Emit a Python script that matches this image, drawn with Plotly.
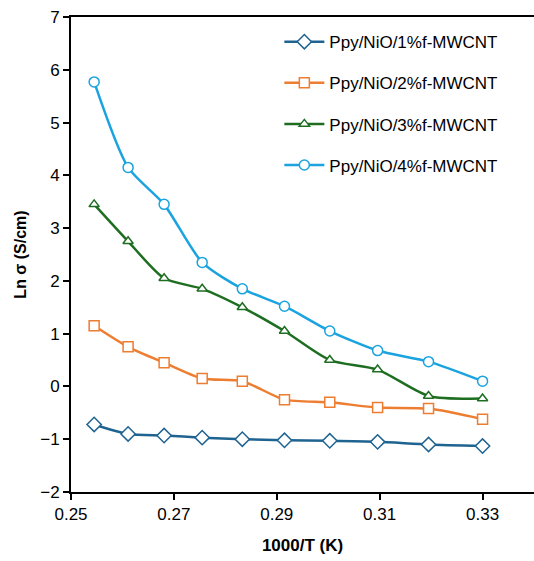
import plotly.graph_objects as go

x_vals = [0.2545, 0.2611, 0.2681, 0.2755, 0.2833, 0.2915, 0.3003, 0.3096, 0.3195, 0.3300]
s1 = [-0.72, -0.90, -0.93, -0.97, -1.00, -1.02, -1.03, -1.05, -1.10, -1.13]
s2 = [1.15, 0.75, 0.45, 0.15, 0.10, -0.25, -0.30, -0.40, -0.42, -0.62]
s3 = [3.45, 2.75, 2.05, 1.85, 1.50, 1.05, 0.50, 0.32, -0.18, -0.23]
s4 = [5.77, 4.15, 3.45, 2.35, 1.85, 1.52, 1.05, 0.68, 0.47, 0.10]
names = ["Ppy/NiO/1%f-MWCNT", "Ppy/NiO/2%f-MWCNT", "Ppy/NiO/3%f-MWCNT", "Ppy/NiO/4%f-MWCNT"]
colors = ["#1F6391", "#ED7D31", "#1E6E22", "#1AA3DF"]
symbols = ["diamond", "square", "triangle-up", "circle"]
sizes = [11, 10, 9, 10]

fig = go.Figure()
for i, ys in enumerate([s1, s2, s3, s4]):
    fig.add_trace(go.Scatter(
        x=x_vals, y=ys, name=names[i], mode="lines+markers",
        legendgroup=f"g{i}",
        line=dict(color=colors[i], width=2.5, shape="spline", smoothing=0.7),
        marker=dict(symbol=symbols[i], size=sizes[i], color="white",
                    line=dict(width=1.5, color=colors[i])),
    ))

fig.update_layout(
    width=534, height=561,
    margin=dict(l=71, r=0, t=17, b=69),
    plot_bgcolor="white", paper_bgcolor="white",
    font=dict(family="Liberation Sans, Arial, sans-serif", color="black"),
    showlegend=True,
    legend=dict(x=0.45, y=0.985, xanchor="left", yanchor="top",
                font=dict(size=17, color="black"), tracegroupgap=16,
                bgcolor="rgba(0,0,0,0)", itemwidth=40),
    xaxis=dict(range=[0.25, 0.34], tickvals=[0.25, 0.27, 0.29, 0.31, 0.33],
               ticktext=["0.25", "0.27", "0.29", "0.31", "0.33"],
               showline=True, linecolor="black", linewidth=2, mirror=True,
               ticks="outside", ticklen=6, tickwidth=1.5, tickcolor="black",
               showgrid=False, zeroline=False,
               tickfont=dict(size=17),
               title=dict(text="<b>1000/T (K)</b>", font=dict(size=17), standoff=16)),
    yaxis=dict(range=[-2, 7], dtick=1,
               showline=True, linecolor="black", linewidth=2,
               ticks="outside", ticklen=6, tickwidth=1.5, tickcolor="black",
               showgrid=False, zeroline=False,
               tickfont=dict(size=17),
               title=dict(text="<b>Ln σ (S/cm)</b>", font=dict(size=16), standoff=10)),
)

fig.write_html("out.html")
